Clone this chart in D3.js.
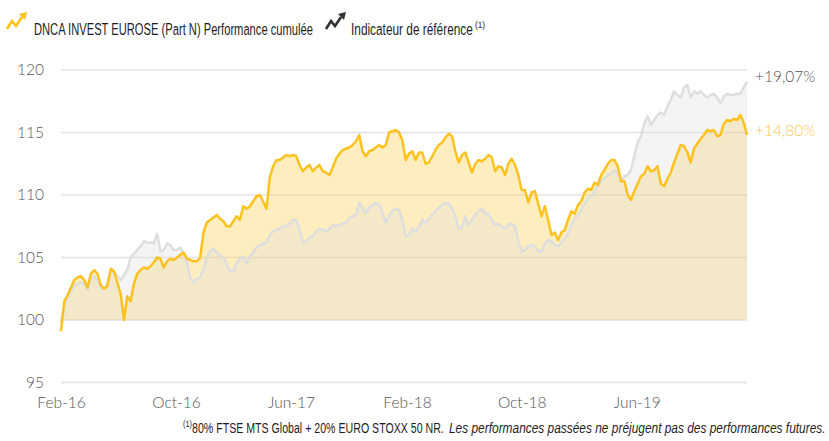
<!DOCTYPE html>
<html lang="fr">
<head>
<meta charset="UTF-8">
<title>DNCA Invest Eurose</title>
<script src="https://d3js.org/d3.v7.min.js"></script>
<style>
  body { margin: 0; background: #fff; }
  .axis text { font-family: Lato, "Open Sans", sans-serif; font-size: 15.5px; fill: #555; font-weight: 300; }
  .legend text, .note text { font-family: "Liberation Sans", Arial, sans-serif; fill: #1e1e1e; }
</style>
</head>
<body>
<svg width="829" height="441"></svg>
<script>
// weekly points starting 1 Feb 2016
var startDate = new Date(2016, 1, 1);

var fund = [
  99.1, 101.5, 102.0, 102.6, 103.2, 103.4, 103.5, 103.2, 102.6, 103.7,
  104.0, 103.7, 102.8, 102.5, 102.7, 104.1, 103.9, 103.0, 102.1, 100.0,
  101.9, 101.5, 102.9, 103.7, 104.0, 104.2, 104.1, 104.3, 104.6, 105.0,
  104.9, 104.2, 104.7, 104.9, 104.8, 105.0, 105.2, 105.4, 104.9, 104.8,
  104.7, 104.7, 105.0, 107.0, 107.8, 108.0, 108.2, 108.4, 108.1, 107.9,
  107.5, 107.5, 107.9, 108.3, 108.0, 109.1, 108.9, 109.1, 109.5, 109.9,
  110.0, 109.5, 108.9, 111.4, 112.3, 112.8, 112.8, 113.0, 113.2, 113.1,
  113.2, 113.1, 112.4, 111.9, 112.2, 112.4, 111.9, 112.2, 112.4, 111.9,
  111.8, 111.6, 112.2, 112.9, 113.3, 113.6, 113.7, 113.8, 114.0, 114.3,
  114.8, 113.5, 113.1, 113.5, 113.6, 113.8, 114.0, 113.8, 114.0, 115.0,
  115.1, 115.2, 115.0, 114.4, 112.8, 113.3, 113.5, 112.8, 113.4, 113.4,
  112.5, 112.6, 113.1, 113.6, 114.0, 114.2, 114.6, 114.9, 114.7, 113.5,
  112.6, 113.2, 113.4, 112.6, 111.8, 112.5, 112.8, 112.7, 112.9, 113.2,
  113.0, 111.9, 112.3, 112.2, 111.6, 112.5, 112.9, 112.4, 111.6, 110.4,
  110.4, 109.4, 110.2, 110.3, 109.3, 108.3, 109.1, 108.0, 106.8, 107.0,
  106.4, 107.0, 107.2, 108.0, 108.7, 108.5, 109.2, 109.5, 110.2, 110.5,
  110.4, 111.0, 110.8, 111.6, 112.0, 112.5, 112.8, 112.8, 112.3, 111.1,
  111.1, 110.0, 109.6, 110.3, 110.9, 111.5, 111.7, 112.3, 111.9, 112.0,
  112.3, 110.9, 110.7, 111.3, 111.8, 112.6, 113.3, 114.0, 113.9, 113.4,
  112.6, 113.7, 114.1, 114.5, 114.8, 115.2, 115.1, 115.2, 114.7, 114.8,
  115.7, 116.0, 115.9, 116.1, 116.0, 116.4, 115.8, 114.8
];

var bench = [
  99.8, 101.2, 101.7, 102.2, 102.8, 102.9, 103.0, 102.9, 102.4, 103.2,
  103.5, 103.2, 102.6, 102.5, 102.9, 103.9, 103.9, 103.5, 103.2, 103.6,
  104.0, 105.0, 105.3, 105.6, 105.9, 106.3, 106.2, 106.2, 106.1, 106.9,
  105.5, 105.6, 106.1, 106.0, 105.6, 105.6, 105.8, 105.2, 104.6, 103.4,
  103.0, 103.3, 103.4, 104.1, 105.0, 105.5, 105.7, 105.4, 105.2, 105.0,
  104.5, 103.9, 103.9, 104.5, 104.9, 105.1, 104.5, 105.1, 105.4, 105.8,
  106.0, 106.1, 106.2, 106.8, 107.1, 107.2, 107.3, 107.5, 107.5, 107.7,
  108.0, 108.0, 107.2, 106.2, 106.3, 106.6, 106.7, 107.1, 107.3, 107.2,
  107.1, 107.3, 107.6, 107.5, 107.6, 107.7, 107.8, 108.1, 108.3, 108.4,
  109.4, 109.0, 108.6, 109.0, 109.2, 109.4, 109.2, 108.6, 107.8, 108.3,
  108.7, 108.9, 108.8, 108.0, 106.7, 106.8, 107.3, 107.1, 107.4, 108.0,
  107.8, 108.1, 108.4, 108.7, 109.0, 109.2, 109.4, 109.3, 108.9, 108.4,
  107.3, 107.4, 108.3, 107.6, 108.0, 108.4, 108.7, 108.9, 108.5, 108.5,
  108.0, 107.6, 107.7, 107.5, 107.3, 107.6, 107.7, 107.5, 106.3, 105.5,
  105.6, 105.9, 106.0, 105.9, 105.5, 105.5, 106.1, 106.4, 106.3, 106.0,
  105.9, 106.2, 106.5, 106.9, 107.6, 108.1, 108.4, 108.8, 109.3, 109.7,
  109.9, 110.3, 110.7, 111.1, 111.3, 111.6, 111.7, 112.0, 111.6, 111.1,
  111.5, 111.6, 112.0, 113.1, 114.2, 114.7, 115.7, 116.3, 115.6, 116.0,
  116.4, 116.6, 116.4, 117.1, 117.6, 118.3, 118.0, 117.8, 118.6, 118.8,
  117.8, 118.3, 118.1, 118.3, 118.0, 117.8, 118.0, 118.1, 117.8, 117.3,
  117.9, 118.1, 118.0, 118.0, 118.1, 118.1, 118.6, 119.07
];

var yTicks = [95, 100, 105, 110, 115, 120];
var xTicks = [new Date(2016, 1, 1), new Date(2016, 9, 1), new Date(2017, 5, 1),
              new Date(2018, 1, 1), new Date(2018, 9, 1), new Date(2019, 5, 1)];
var endLabels = ["+19,07%", "+14,80%"];

var svg = d3.select("svg");
var goldLine = "#fcc220", greyLine = "#dedede";

var data = fund.map(function(v, i) {
  return {date: d3.timeDay.offset(startDate, 7 * i), fund: v, bench: bench[i]};
});

var x = d3.scaleTime()
  .domain([data[0].date, data[data.length - 1].date])
  .range([61, 747]);
var y = d3.scaleLinear().domain([95, 120]).range([382.5, 70]);

// gridlines
svg.append("g").selectAll("line")
  .data(yTicks).enter().append("line")
  .attr("x1", 61).attr("x2", 747)
  .attr("y1", function(d) { return y(d); })
  .attr("y2", function(d) { return y(d); })
  .attr("stroke", "#e3e3e3")
  .attr("stroke-width", 1.3);

var areaFund = d3.area()
  .x(function(d) { return x(d.date); })
  .y0(y(100))
  .y1(function(d) { return y(d.fund); });
var areaBench = d3.area()
  .x(function(d) { return x(d.date); })
  .y0(y(100))
  .y1(function(d) { return y(d.bench); });

svg.append("path").datum(data)
  .attr("d", areaFund)
  .attr("fill", "#fcc428").attr("fill-opacity", 0.3);
svg.append("path").datum(data)
  .attr("d", areaBench)
  .attr("fill", "#dcdcdc").attr("fill-opacity", 0.32);

var lineBench = d3.line()
  .x(function(d) { return x(d.date); })
  .y(function(d) { return y(d.bench); });
var lineFund = d3.line()
  .x(function(d) { return x(d.date); })
  .y(function(d) { return y(d.fund); });

svg.append("path").datum(data)
  .attr("d", lineBench)
  .attr("fill", "none").attr("stroke", greyLine)
  .attr("stroke-width", 2.5).attr("stroke-linejoin", "round");
svg.append("path").datum(data)
  .attr("d", lineFund)
  .attr("fill", "none").attr("stroke", goldLine)
  .attr("stroke-width", 2.5).attr("stroke-linejoin", "round");

// axes
var yAxis = svg.append("g")
  .attr("class", "axis")
  .attr("transform", "translate(46,0)")
  .call(d3.axisLeft(y).tickValues(yTicks).tickSize(0).tickPadding(2));
yAxis.select(".domain").remove();

var xAxis = svg.append("g")
  .attr("class", "axis")
  .attr("transform", "translate(0," + y(95) + ")")
  .call(d3.axisBottom(x).tickValues(xTicks).tickSize(0).tickPadding(14)
    .tickFormat(d3.timeFormat("%b-%y")));
xAxis.select(".domain").remove();

// end labels
var last = data[data.length - 1];
svg.append("text")
  .attr("x", 755).attr("y", y(last.bench) + 0.5)
  .attr("font-family", "Lato, sans-serif").attr("font-size", 15.5).attr("font-weight", 300)
  .attr("fill", "#555")
  .text(endLabels[0]);
svg.append("text")
  .attr("x", 755).attr("y", y(last.fund) + 0.5)
  .attr("font-family", "Lato, sans-serif").attr("font-size", 15.5).attr("font-weight", 300)
  .attr("fill", "#fcc74a")
  .text(endLabels[1]);

// narrow text: squeeze a normal font horizontally to the wanted width
function fitText(parent, str, x0, y0, width, size, italic) {
  var t = parent.append("text")
    .attr("font-size", size)
    .attr("font-style", italic ? "italic" : null)
    .text(str);
  var w = t.node().getComputedTextLength();
  t.attr("transform", "translate(" + x0 + "," + y0 + ") scale(" + (width / w) + ",1)");
  return t;
}

// legend
var legend = svg.append("g").attr("class", "legend");
function arrowIcon(x0, color) {
  var g = legend.append("g").attr("transform", "translate(" + x0 + ",0)");
  g.append("path")
    .attr("d", "M1,29 L6,21 L10,26 L16,17")
    .attr("fill", "none").attr("stroke", color)
    .attr("stroke-width", 2.6).attr("stroke-linejoin", "miter");
  g.append("path")
    .attr("d", "M13,14 L21,12 L19,20 Z")
    .attr("fill", color);
}
arrowIcon(6, "#fcc220");
arrowIcon(325, "#333333");
fitText(legend, "DNCA INVEST EUROSE (Part N) Performance cumulée", 34, 35, 279, 17);
fitText(legend, "Indicateur de référence", 351, 35, 122, 17);
fitText(legend, "(1)", 475, 28, 10, 8.5);

// footnote
var note = svg.append("g").attr("class", "note");
fitText(note, "(1)", 183, 427, 9, 8.5);
fitText(note, "80% FTSE MTS Global + 20% EURO STOXX 50 NR.", 192, 433, 252, 15);
fitText(note, "Les performances passées ne préjugent pas des performances futures.", 449, 433, 377, 15, true);
</script>
</body>
</html>
